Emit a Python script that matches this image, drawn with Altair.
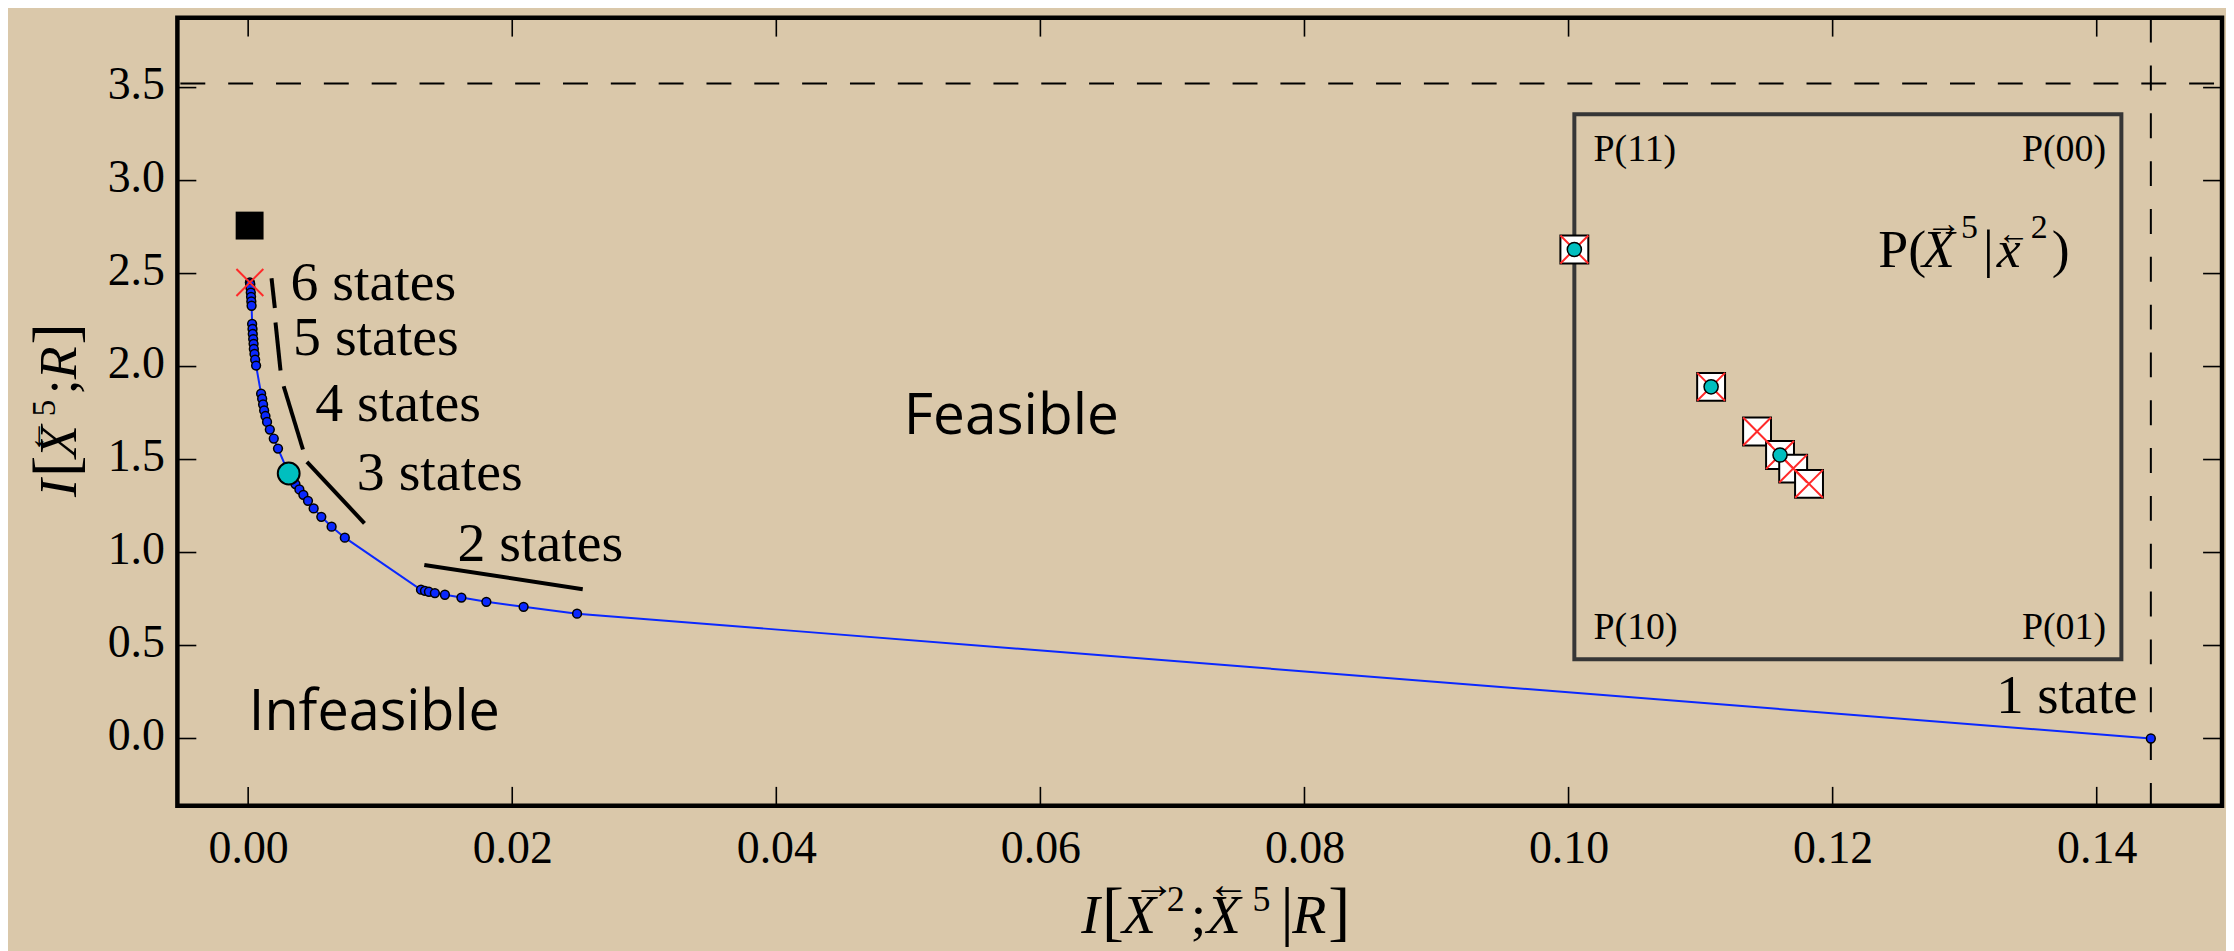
import altair as alt
import pandas as pd

# ---------------- data ----------------
curve_x = [0.00013, 0.00016, 0.00018, 0.00020, 0.00022, 0.00024, 0.00026,
           0.00030, 0.00033, 0.00035, 0.00038, 0.00041, 0.00043, 0.00048, 0.00053, 0.00060,
           0.00098, 0.00106, 0.00113, 0.00121, 0.00131, 0.00143, 0.00164, 0.00194, 0.00226,
           0.00307, 0.00358, 0.00388, 0.00418, 0.00453, 0.00496, 0.00554, 0.00632, 0.00732,
           0.01309, 0.01339, 0.01369, 0.01414, 0.01490, 0.01615, 0.01804, 0.02086, 0.02491,
           0.14410]
curve_y = [2.452, 2.443, 2.422, 2.398, 2.375, 2.350, 2.327,
           2.229, 2.202, 2.175, 2.148, 2.122, 2.095, 2.068, 2.037, 2.005,
           1.854, 1.827, 1.796, 1.764, 1.734, 1.702, 1.661, 1.613, 1.559,
           1.425, 1.368, 1.339, 1.310, 1.278, 1.237, 1.192, 1.139, 1.080,
           0.800, 0.794, 0.789, 0.782, 0.773, 0.758, 0.735, 0.708, 0.671,
           0.000]

cyan_pt = ([0.00307], [1.425])      # 3-state solution
red_x_pt = ([0.00013], [2.452])     # 6-state solution
square_pt = ([0.00011], [2.758])    # causal states

bound_x = 0.1441   # vertical dashed line
bound_y = 3.522    # horizontal dashed line

state_labels = ["6 states", "5 states", "4 states", "3 states", "2 states"]
state_lx = [0.0032, 0.0034, 0.00508, 0.00823, 0.01585]
state_ly = [2.357, 2.064, 1.707, 1.335, 0.957]
seg_x = [0.00177, 0.00207, 0.00269, 0.00445, 0.01334]
seg_y = [2.475, 2.237, 1.894, 1.487, 0.933]
seg_x2 = [0.00202, 0.00245, 0.00415, 0.00881, 0.02534]
seg_y2 = [2.315, 1.979, 1.554, 1.157, 0.803]

xtick_vals = [0.0, 0.02, 0.04, 0.06, 0.08, 0.10, 0.12, 0.14]
ytick_vals = [0.0, 0.5, 1.0, 1.5, 2.0, 2.5, 3.0, 3.5]

# inset (mixed-state simplex), in inset-axes fractions
inset_x = [0.000, 0.250, 0.334, 0.376, 0.400, 0.429]
inset_y = [0.752, 0.500, 0.418, 0.375, 0.350, 0.322]
inset_circle = [True, True, False, True, False, False]
corner_labels = ["P(11)", "P(00)", "P(10)", "P(01)"]
corner_lx = [0.035, 0.972, 0.035, 0.972]
corner_ly = [0.914, 0.914, 0.038, 0.038]
corner_align = ["left", "right", "left", "right"]

# ---------------- layout ----------------
W, H = 2052, 791
OX, OY = 178, 16          # plot origin on the page
XDOM = [-0.00536, 0.14949]
YDOM = [-0.362, 3.876]
BG = "#dac8aa"
SERIF = "Liberation Serif, Times New Roman, serif"
SANS = "Open Sans, sans-serif"

xs = alt.Scale(domain=XDOM, nice=False, zero=False)
ys = alt.Scale(domain=YDOM, nice=False, zero=False)

x_axis = alt.Axis(values=xtick_vals, format=".2f", title=None, labelPadding=21)
y_axis = alt.Axis(values=ytick_vals, format=".1f", title=None,
                  labelPadding=13, labelOffset=-3)


def X(field="x"):
    return alt.X(f"{field}:Q", scale=xs, axis=x_axis)


def Y(field="y"):
    return alt.Y(f"{field}:Q", scale=ys, axis=y_axis)


curve_df = pd.DataFrame({"x": curve_x, "y": curve_y, "i": list(range(len(curve_x)))})

line = alt.Chart(curve_df).mark_line(color="#0a28ff", strokeWidth=2).encode(
    x=X(), y=Y(), order="i:Q")
dots = alt.Chart(curve_df).mark_point(
    shape="circle", filled=True, fill="#0a28ff", stroke="black", strokeWidth=1.5,
    size=78, opacity=1).encode(x=X(), y=Y())

cyan = alt.Chart(pd.DataFrame({"x": cyan_pt[0], "y": cyan_pt[1]})).mark_point(
    shape="circle", filled=True, fill="#00bfbf", stroke="black", strokeWidth=2,
    size=480, opacity=1).encode(x=X(), y=Y())
redx = alt.Chart(pd.DataFrame({"x": red_x_pt[0], "y": red_x_pt[1]})).mark_point(
    shape="M-1,-1L1,1M-1,1L1,-1", filled=False, stroke="#ff2a2a", strokeWidth=2,
    size=729, opacity=1).encode(x=X(), y=Y())
blacksq = alt.Chart(pd.DataFrame({"x": square_pt[0], "y": square_pt[1]})).mark_point(
    shape="square", filled=True, fill="black", stroke="black", strokeWidth=0,
    size=784, opacity=1).encode(x=X(), y=Y())

vdash = alt.Chart(pd.DataFrame({"x": [bound_x]})).mark_rule(
    color="black", strokeWidth=2, strokeDash=[25, 23]).encode(x=X())
hdash = alt.Chart(pd.DataFrame({"y": [bound_y]})).mark_rule(
    color="black", strokeWidth=2, strokeDash=[25, 23], strokeDashOffset=-8).encode(y=Y())

seg_df = pd.DataFrame({"x": seg_x, "y": seg_y, "x2": seg_x2, "y2": seg_y2})
segs = alt.Chart(seg_df).mark_rule(color="black", strokeWidth=4).encode(
    x=X(), y=Y(), x2="x2:Q", y2="y2:Q")

lab_df = pd.DataFrame({"x": state_lx, "y": state_ly, "t": state_labels})
labs = alt.Chart(lab_df).mark_text(
    font=SERIF, fontSize=56, align="left", baseline="alphabetic", color="black").encode(
    x=X(), y=Y(), text="t:N")
one_state = alt.Chart(pd.DataFrame({"x": [0.1431], "y": [0.135], "t": ["1 state"]})).mark_text(
    font=SERIF, fontSize=55, align="right", baseline="alphabetic", color="black").encode(
    x=X(), y=Y(), text="t:N")

feas = alt.Chart(pd.DataFrame({"x": [0.0578], "y": [1.635], "t": ["Feasible"]})).mark_text(
    font=SANS, fontSize=57, align="center", baseline="alphabetic", color="black").encode(
    x=X(), y=Y(), text="t:N")
infeas = alt.Chart(pd.DataFrame({"x": [0.00005], "y": [0.044], "t": ["Infeasible"]})).mark_text(
    font=SANS, fontSize=56, align="left", baseline="alphabetic", color="black").encode(
    x=X(), y=Y(), text="t:N")

# inward ticks on all four sides
xt = pd.DataFrame({"x": xtick_vals})
yt = pd.DataFrame({"y": ytick_vals})
TL = 19
tick_b = alt.Chart(xt).mark_rule(color="black", strokeWidth=1.6).encode(
    x=X(), y=alt.value(H), y2=alt.value(H - TL))
tick_t = alt.Chart(xt).mark_rule(color="black", strokeWidth=1.6).encode(
    x=X(), y=alt.value(0), y2=alt.value(TL))
tick_l = alt.Chart(yt).mark_rule(color="black", strokeWidth=1.6).encode(
    y=Y(), x=alt.value(0), x2=alt.value(TL))
tick_r = alt.Chart(yt).mark_rule(color="black", strokeWidth=1.6).encode(
    y=Y(), x=alt.value(W - TL), x2=alt.value(W))

# ---------------- typeset axis titles (arrows over X) ----------------
one = pd.DataFrame({"a": [0]})


def glyph(text, px, py, size, italic=False, angle=0):
    props = dict(text=text, font=SERIF, fontSize=size,
                 fontStyle="italic" if italic else "normal",
                 align="left", baseline="alphabetic", color="black")
    if angle:
        props["angle"] = angle
    return alt.Chart(one).mark_text(**props).encode(
        x=alt.value(px - OX), y=alt.value(py - OY))


# (text, along-position, rise, size, italic)
XT_BASE = 935
x_title_parts = [("I", 1085, 0, 56, True), ("[", 1106, 0, 66, False),
                 ("X", 1126, 0, 56, True), ("\u2192", 1137, 35, 42, False),
                 ("2", 1171, 22, 36, False), (";", 1195, 0, 56, False),
                 ("X", 1211, 0, 56, True), ("\u2190", 1212, 35, 42, False),
                 ("5", 1257, 22, 36, False), ("|", 1285, 0, 66, False),
                 ("R", 1297, 0, 56, True), ("]", 1333, 0, 66, False)]
x_title = [glyph(t, p, XT_BASE - r, s, it) for t, p, r, s, it in x_title_parts]

YT_BASE = 76
YT_START = 497
y_title_parts = [("I", 0, 0, 54, True), ("[", 20, 0, 64, False),
                 ("X", 39, 0, 54, True), ("\u2190", 43, 31, 35, False),
                 ("5", 81, 21, 33, False), (";", 103, 0, 54, False),
                 ("R", 118, 0, 54, True), ("]", 153, 0, 64, False)]
y_title = [glyph(t, YT_BASE - r, YT_START - p, s, it, angle=270)
           for t, p, r, s, it in y_title_parts]

IT_BASE = 266
inset_title_parts = [("P(", 1885, 0, 54, False), ("X", 1929, 0, 54, True),
                     ("\u2192", 1933, 32, 36, False), ("5", 1968, 29, 34, False),
                     ("|", 1990, 0, 54, False), ("x", 2004, 0, 54, True),
                     ("\u2190", 2005, 23, 32, False), ("2", 2038, 29, 34, False),
                     (")", 2059, 0, 54, False)]
inset_title = [glyph(t, p, IT_BASE - r, s, it) for t, p, r, s, it in inset_title_parts]

main = alt.layer(hdash, vdash, tick_b, tick_t, tick_l, tick_r, line, dots, cyan,
                 redx, blacksq, segs, labs, one_state, feas, infeas,
                 *x_title, *y_title, *inset_title)

# ---------------- inset ----------------
ixs = alt.Scale(domain=[0, 1], range=[1580 - OX, 2129 - OX], nice=False, zero=False)
iys = alt.Scale(domain=[0, 1], range=[660 - OY, 113 - OY], nice=False, zero=False)


def IX(field="ix"):
    return alt.X(f"{field}:Q", scale=ixs, axis=None)


def IY(field="iy"):
    return alt.Y(f"{field}:Q", scale=iys, axis=None)


frame = alt.Chart(pd.DataFrame({"ix": [0], "ix2": [1], "iy": [0], "iy2": [1]})).mark_rect(
    fill=None, stroke="#363636", strokeWidth=4).encode(
    x=IX(), x2="ix2:Q", y=IY(), y2="iy2:Q")

ins_df = pd.DataFrame({"ix": inset_x, "iy": inset_y, "c": inset_circle})
isq = alt.Chart(ins_df).mark_point(
    shape="square", filled=True, fill="white", stroke="black", strokeWidth=2,
    size=784, opacity=1).encode(x=IX(), y=IY())
ix_ = alt.Chart(ins_df).mark_point(
    shape="M-1,-1L1,1M-1,1L1,-1", filled=False, stroke="#ff2a2a", strokeWidth=2,
    size=784, opacity=1).encode(x=IX(), y=IY())
icirc = alt.Chart(ins_df).transform_filter("datum.c").mark_point(
    shape="circle", filled=True, fill="#00bfbf", stroke="black", strokeWidth=1.5,
    size=201, opacity=1).encode(x=IX(), y=IY())

corner_df = pd.DataFrame({"ix": corner_lx, "iy": corner_ly, "t": corner_labels,
                          "a": corner_align})
corners_l = alt.Chart(corner_df).transform_filter("datum.a == 'left'").mark_text(
    font=SERIF, fontSize=38, align="left", baseline="alphabetic", color="black").encode(
    x=IX(), y=IY(), text="t:N")
corners_r = alt.Chart(corner_df).transform_filter("datum.a == 'right'").mark_text(
    font=SERIF, fontSize=38, align="right", baseline="alphabetic", color="black").encode(
    x=IX(), y=IY(), text="t:N")

inset = alt.layer(frame, isq, ix_, icirc, corners_l, corners_r)

chart = alt.layer(main, inset).resolve_scale(
    x="independent", y="independent"
).properties(
    width=W, height=H,
    padding={"left": OX - 8, "top": OY - 8, "right": 4, "bottom": 144},
    autosize=alt.AutoSizeParams(type="none"),
    background=BG,
).configure_view(
    stroke="black", strokeWidth=4.5
).configure_axis(
    domain=False, ticks=False, grid=False,
    labelFont=SERIF, labelFontSize=46, labelColor="black",
)

chart.save("out.html", embed_options={"renderer": "svg", "actions": False})
